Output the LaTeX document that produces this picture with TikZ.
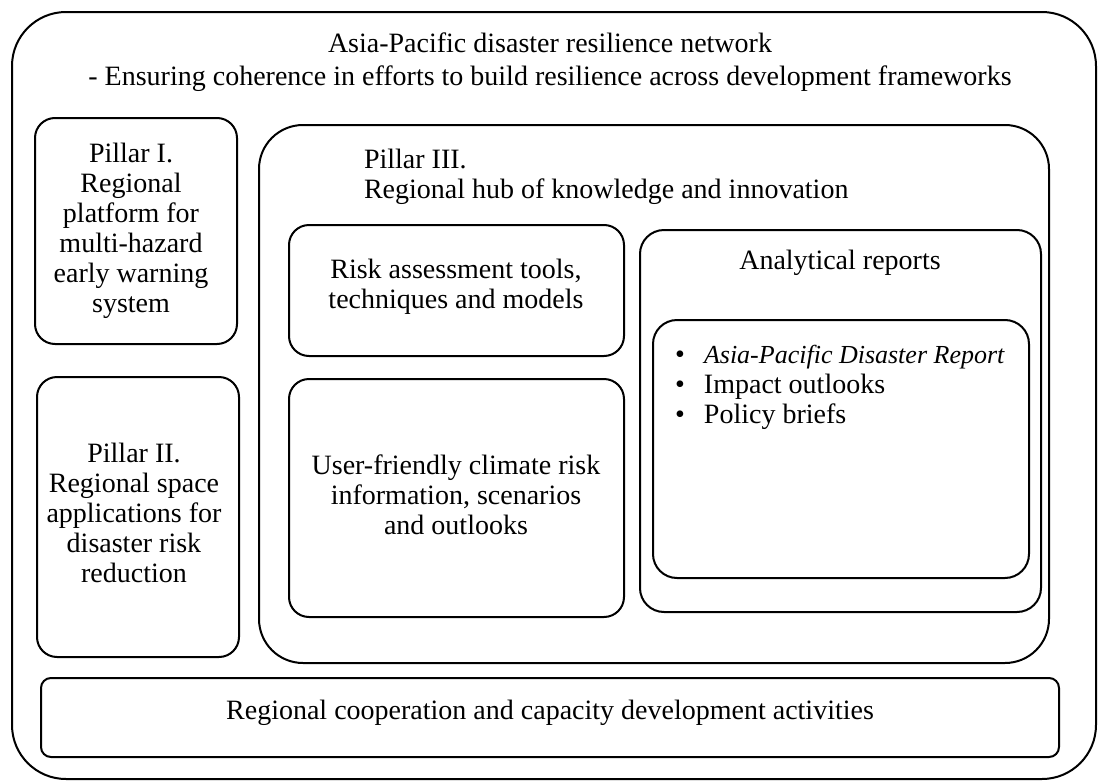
\documentclass[tikz,border=0pt]{standalone}
\usepackage{fontspec}
\setmainfont{Liberation Serif}

\begin{document}
\begin{tikzpicture}[x=0.5pt, y=-0.5pt, line width=1pt,
    box/.style={draw, rounded corners=#1}, box/.default=10pt,
    lbl/.style={inner sep=0pt, align=center, font=\fontsize{14}{15}\selectfont}]
  \useasboundingbox (0,0) rectangle (1100,782);
  % frames
  \draw[box=27pt] (12,12) rectangle (1096,779);
  \draw[box] (35,118) rectangle (237,344);
  \draw[box] (37,377) rectangle (239,657);
  \draw[box=22pt] (259,125) rectangle (1049,663);
  \draw[box] (289,225) rectangle (624,356);
  \draw[box] (289,379) rectangle (624,617);
  \draw[box=12pt] (640,230) rectangle (1041,612);
  \draw[box=12pt] (653,320) rectangle (1029,578);
  \draw[box=5pt] (41,678) rectangle (1059,757);
  % texts
  \node[lbl] (title) at (550,62) {Asia-Pacific disaster resilience network\\[1.5pt]- Ensuring coherence in efforts to build resilience across development frameworks};
  \node[lbl] (p1) at (131,231) {Pillar I.\\Regional\\platform for\\multi-hazard\\early warning\\system};
  \node[lbl] (p2) at (134,513) {Pillar II.\\Regional space\\applications for\\disaster risk\\reduction};
  \node[lbl, align=left, anchor=west] (p3) at (363,177) {Pillar III.\\Regional hub of knowledge and innovation};
  \node[lbl] (risk) at (456,287) {Risk assessment tools,\\techniques and models};
  \node[lbl] (user) at (456,495) {User-friendly climate risk\\information, scenarios\\and outlooks};
  \node[lbl] (reports) at (840,263) {Analytical reports};
  \node[lbl, align=left, anchor=west] (list) at (674,387) {\makebox[14.5pt][l]{\textbullet}{\fontsize{13}{15}\selectfont\textit{Asia-Pacific Disaster Report}}\\\makebox[14.5pt][l]{\textbullet}Impact outlooks\\\makebox[14.5pt][l]{\textbullet}Policy briefs};
  \node[lbl] (coop) at (550,713) {Regional cooperation and capacity development activities};
\end{tikzpicture}
\end{document}
